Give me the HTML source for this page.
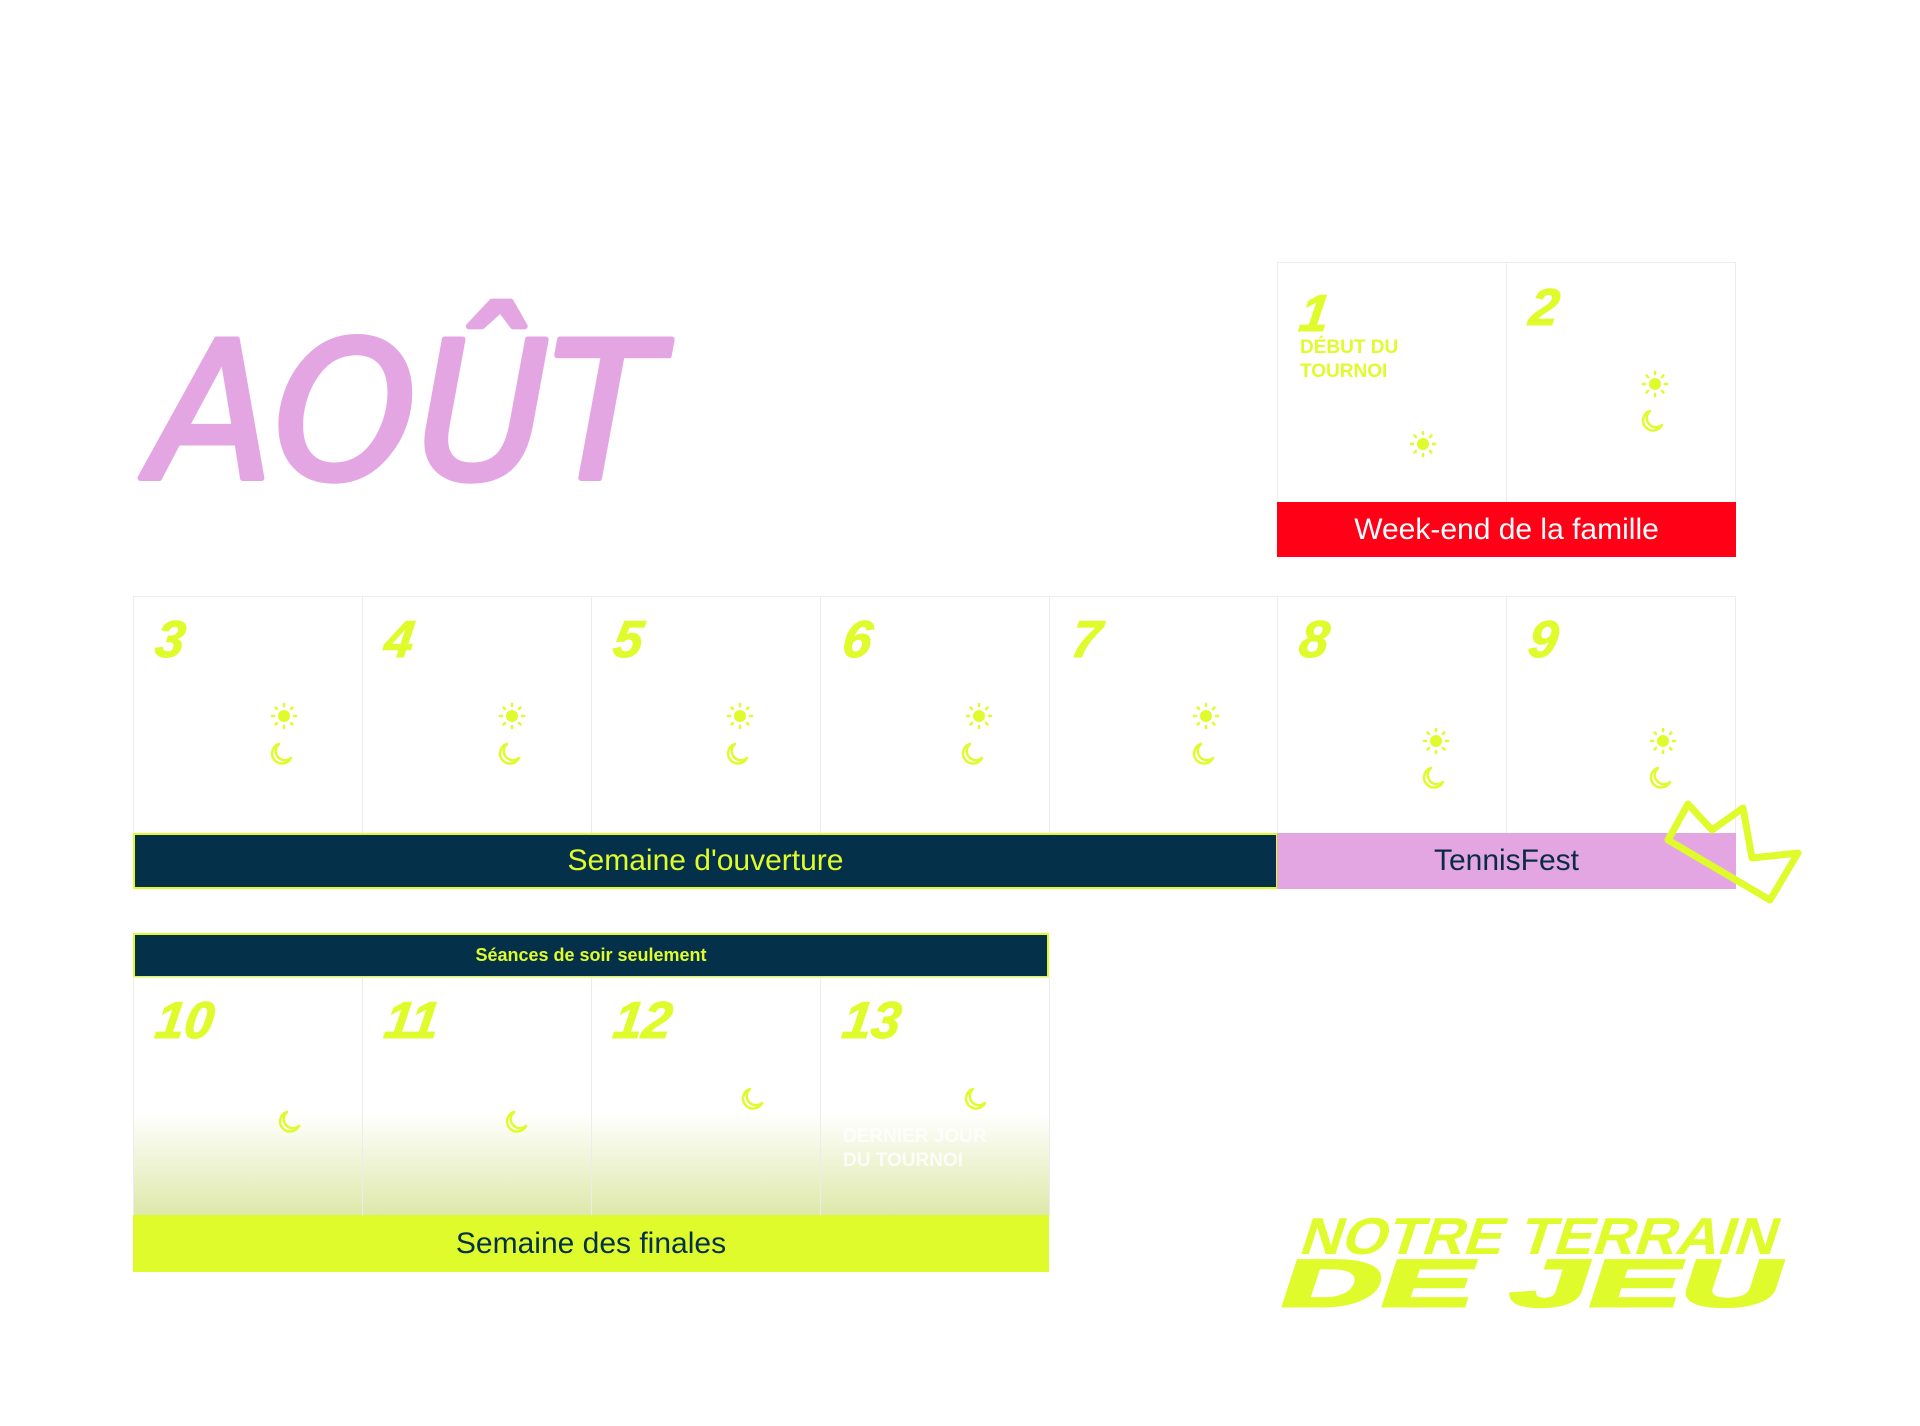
<!DOCTYPE html>
<html><head><meta charset="utf-8"><style>
html,body{margin:0;padding:0;background:#fff;}
body{width:1920px;height:1426px;position:relative;overflow:hidden;font-family:"Liberation Sans",sans-serif;}
.cell{position:absolute;box-sizing:border-box;border:1px solid #ececec;background:#fff;}
.num{position:absolute;font-weight:bold;font-style:italic;font-size:52px;color:#e0fb2c;line-height:1;transform:skewX(-8deg);-webkit-text-stroke:1px #e0fb2c;}
.bar{position:absolute;display:flex;align-items:center;justify-content:center;font-size:30px;box-sizing:border-box;}
</style></head><body>

<!-- Title -->
<svg style="position:absolute;left:0;top:0" width="1920" height="1426">
  <text x="150" y="478" font-family="DejaVu Sans, sans-serif" font-size="190" font-style="italic" font-weight="normal" fill="#e3a6e3" stroke="#e3a6e3" stroke-width="6" stroke-linejoin="round" stroke-linecap="round" textLength="510" lengthAdjust="spacingAndGlyphs">AOÛT</text>
</svg>

<!-- Top box: 1, 2 -->
<div class="cell" style="left:1277px;top:262px;width:230px;height:241px;"></div>
<div class="cell" style="left:1506px;top:262px;width:230px;height:241px;"></div>
<div class="num" style="left:1300px;top:288px;">1</div>
<div style="position:absolute;left:1300px;top:336px;color:#e0fb2c;font-weight:bold;font-size:19px;line-height:24px;">DÉBUT DU<br>TOURNOI</div>
<div class="num" style="left:1530px;top:282px;">2</div>
<div class="bar" style="left:1277px;top:502px;width:459px;height:55px;background:#ff0016;color:#fff;">Week-end de la famille</div>

<!-- Row 2 -->
<div class="cell" style="left:133px;top:596px;width:230px;height:238px;"></div>
<div class="cell" style="left:362px;top:596px;width:230px;height:238px;"></div>
<div class="cell" style="left:591px;top:596px;width:230px;height:238px;"></div>
<div class="cell" style="left:820px;top:596px;width:230px;height:238px;"></div>
<div class="cell" style="left:1049px;top:596px;width:230px;height:238px;"></div>
<div class="cell" style="left:1277px;top:596px;width:230px;height:238px;"></div>
<div class="cell" style="left:1506px;top:596px;width:230px;height:238px;"></div>
<div class="num" style="left:156px;top:614px;">3</div>
<div class="num" style="left:385px;top:614px;">4</div>
<div class="num" style="left:614px;top:614px;">5</div>
<div class="num" style="left:843px;top:614px;">6</div>
<div class="num" style="left:1072px;top:614px;">7</div>
<div class="num" style="left:1300px;top:614px;">8</div>
<div class="num" style="left:1529px;top:614px;">9</div>
<div class="bar" style="left:133px;top:833px;width:1145px;height:56px;background:#04304a;color:#e0fb2c;border:2px solid #e0fb2c;">Semaine d'ouverture</div>
<div class="bar" style="left:1277px;top:833px;width:459px;height:56px;background:#e3a6e3;color:#0b2a4a;">TennisFest</div>

<!-- Row 3 -->
<div class="bar" style="left:133px;top:933px;width:916px;height:45px;background:#04304a;color:#e0fb2c;border:2px solid #e0fb2c;font-size:18px;font-weight:bold;">Séances de soir seulement</div>
<div class="cell" style="left:133px;top:977px;width:230px;height:239px;background:linear-gradient(#fff 0,#fff 135px,#dde8a8 239px);"></div>
<div class="cell" style="left:362px;top:977px;width:230px;height:239px;background:linear-gradient(#fff 0,#fff 135px,#dde8a8 239px);"></div>
<div class="cell" style="left:591px;top:977px;width:230px;height:239px;background:linear-gradient(#fff 0,#fff 135px,#dde8a8 239px);"></div>
<div class="cell" style="left:820px;top:977px;width:230px;height:239px;background:linear-gradient(#fff 0,#fff 135px,#dde8a8 239px);"></div>
<div class="num" style="left:156px;top:995px;">10</div>
<div class="num" style="left:385px;top:995px;">11</div>
<div class="num" style="left:614px;top:995px;">12</div>
<div class="num" style="left:843px;top:995px;">13</div>
<div style="position:absolute;left:843px;top:1125px;color:#fff;font-weight:bold;font-size:19px;line-height:24px;opacity:.8;">DERNIER JOUR<br>DU TOURNOI</div>
<div class="bar" style="left:133px;top:1215px;width:916px;height:57px;background:#e0fb2c;color:#05304a;">Semaine des finales</div>

<!-- Icons -->
<svg style="position:absolute;left:0;top:0" width="1920" height="1426">
  <defs>
    <g id="sun"><circle r="6" fill="#e0fb2c"/><g stroke="#e0fb2c" stroke-width="2.5" stroke-linecap="round">
      <line x1="0" y1="-10" x2="0" y2="-12"/><line x1="0" y1="10" x2="0" y2="12"/><line x1="-10" y1="0" x2="-12" y2="0"/><line x1="10" y1="0" x2="12" y2="0"/>
      <line x1="7" y1="7" x2="8.5" y2="8.5"/><line x1="-7" y1="7" x2="-8.5" y2="8.5"/><line x1="7" y1="-7" x2="8.5" y2="-8.5"/><line x1="-7" y1="-7" x2="-8.5" y2="-8.5"/></g></g>
    <path id="moon" d="M -2 -10 A 10 10 0 1 0 10 4 A 8 8 0 0 1 -2 -10 Z" fill="none" stroke="#e0fb2c" stroke-width="2.5" stroke-linejoin="round"/>
  </defs>
  <use href="#sun" x="1423" y="444"/>
  <use href="#sun" x="1655" y="384"/><use href="#moon" x="1652" y="421"/>
  <use href="#sun" x="284" y="716"/><use href="#moon" x="281" y="754"/>
  <use href="#sun" x="512" y="716"/><use href="#moon" x="509" y="754"/>
  <use href="#sun" x="740" y="716"/><use href="#moon" x="737" y="754"/>
  <use href="#sun" x="979" y="716"/><use href="#moon" x="972" y="754"/>
  <use href="#sun" x="1206" y="716"/><use href="#moon" x="1203" y="754"/>
  <use href="#sun" x="1436" y="741"/><use href="#moon" x="1433" y="778"/>
  <use href="#sun" x="1663" y="741"/><use href="#moon" x="1660" y="778"/>
  <use href="#moon" x="289" y="1122"/>
  <use href="#moon" x="516" y="1122"/>
  <use href="#moon" x="752" y="1099"/>
  <use href="#moon" x="975" y="1099"/>
  <!-- crown -->
  <path d="M 1668 840 L 1688 804 L 1712 830 L 1743 808 L 1752 858 L 1798 853 L 1770 900 Z" fill="none" stroke="#e0fb2c" stroke-width="7" stroke-linejoin="round" stroke-linecap="round"/>
  <!-- logo -->
  <g transform="skewX(-18)" font-family="Liberation Sans, sans-serif" font-weight="bold" fill="#e0fb2c">
    <text x="1705" y="1254" font-size="52" textLength="476" lengthAdjust="spacingAndGlyphs">NOTRE TERRAIN</text>
    <text x="1700" y="1306" font-size="66" textLength="500" lengthAdjust="spacingAndGlyphs" stroke="#e0fb2c" stroke-width="3">DE JEU</text>
  </g>
</svg>
</body></html>
